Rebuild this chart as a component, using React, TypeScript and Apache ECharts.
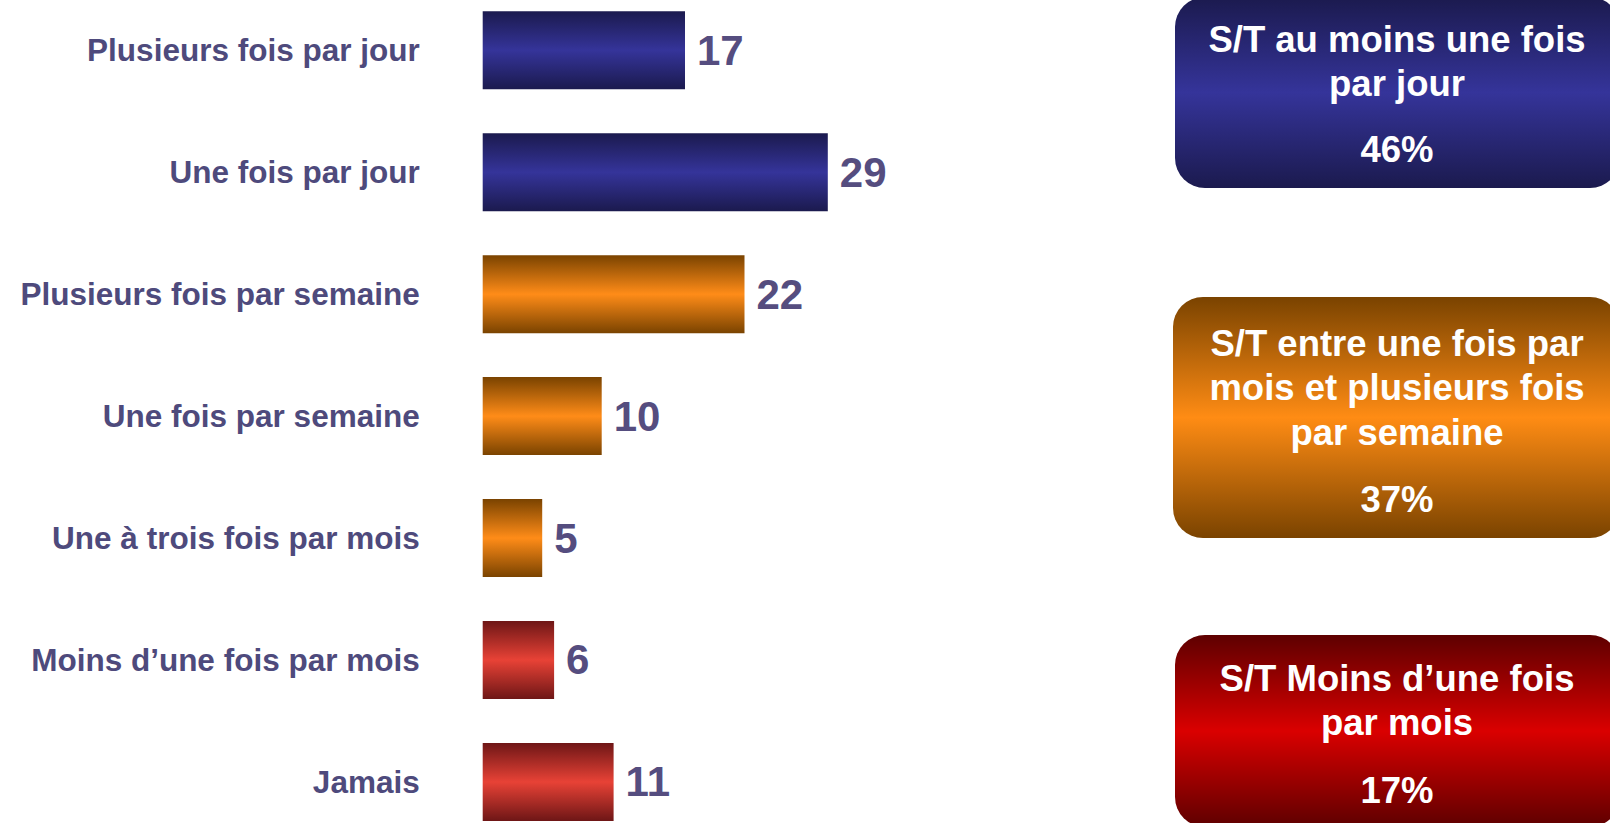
import React, { useEffect, useRef } from "react";
import * as echarts from "echarts";

const categories = [
  "Plusieurs fois par jour",
  "Une fois par jour",
  "Plusieurs fois par semaine",
  "Une fois par semaine",
  "Une à trois fois par mois",
  "Moins d’une fois par mois",
  "Jamais",
];
const values = [17, 29, 22, 10, 5, 6, 11];
const groups = ["blue", "blue", "orange", "orange", "orange", "red", "red"];

const summaryTitles = [
  "S/T au moins une fois\npar jour",
  "S/T entre une fois par\nmois et plusieurs fois\npar semaine",
  "S/T Moins d’une fois\npar mois",
];
const summaryValues = ["46%", "37%", "17%"];

const FONT = '"Liberation Sans", Arial, Helvetica, sans-serif';

const barColors: Record<string, [string, string]> = {
  blue: ["#1b1a4e", "#35349a"],
  orange: ["#7a4300", "#ff8c18"],
  red: ["#6e1616", "#e84236"],
};
const boxColors: [string, string][] = [
  ["#1b1a4e", "#35349a"],
  ["#7a4300", "#ff8c14"],
  ["#5e0000", "#da0000"],
];

const vGrad = (edge: string, mid: string) => ({
  type: "linear",
  x: 0,
  y: 0,
  x2: 0,
  y2: 1,
  colorStops: [
    { offset: 0, color: edge },
    { offset: 0.5, color: mid },
    { offset: 1, color: edge },
  ],
});

// chart canvas is shifted up by OFF px so the category bands can extend beyond the page
const OFF = 11;
const CH = 855;

export default function App() {
  const ref = useRef<HTMLDivElement>(null);
  useEffect(() => {
    if (!ref.current) return;
    const chart = echarts.init(ref.current, null, { renderer: "svg" });

    const boxes = [
      { x: 1175, y: -3, w: 445, h: 191 },
      { x: 1173, y: 297, w: 447, h: 241 },
      { x: 1175, y: 635, w: 445, h: 192 },
    ];
    const titleBaselines = [52, 356, 691];
    const pctBaselines = [162, 512, 803];

    const graphics: any[] = [];
    boxes.forEach((b, i) => {
      graphics.push({
        type: "rect",
        shape: { x: b.x, y: b.y + OFF, width: b.w, height: b.h, r: 30 },
        style: { fill: vGrad(boxColors[i][0], boxColors[i][1]) },
        z: 1,
      });
      graphics.push({
        type: "text",
        x: 1397,
        y: titleBaselines[i] - 35 + OFF,
        style: {
          text: summaryTitles[i],
          fill: "#ffffff",
          font: `bold 36.5px ${FONT}`,
          textAlign: "center",
          textVerticalAlign: "top",
          lineHeight: 44.5,
        },
        z: 2,
      });
      graphics.push({
        type: "text",
        x: 1397,
        y: pctBaselines[i] - 35 + OFF,
        style: {
          text: summaryValues[i],
          fill: "#ffffff",
          font: `bold 36.5px ${FONT}`,
          textAlign: "center",
          textVerticalAlign: "top",
          lineHeight: 44.5,
        },
        z: 2,
      });
    });

    chart.setOption({
      animation: false,
      backgroundColor: "#ffffff",
      grid: { left: 482.7, top: 0.3, height: 853.6, width: 714, containLabel: false },
      xAxis: {
        type: "value",
        min: 0,
        max: 60,
        show: false,
      },
      yAxis: {
        type: "category",
        data: categories,
        inverse: true,
        axisLine: { show: false },
        axisTick: { show: false },
        axisLabel: {
          margin: 63,
          color: "#4e4a7c",
          fontSize: 31.5,
          fontWeight: "bold",
          fontFamily: FONT,
        },
      },
      series: [
        {
          type: "bar",
          barWidth: 78,
          data: values.map((v, i) => ({
            value: v,
            itemStyle: {
              color: vGrad(barColors[groups[i]][0], barColors[groups[i]][1]),
            },
          })),
          label: {
            show: true,
            position: "right",
            distance: 12,
            color: "#554d7f",
            fontSize: 42,
            fontWeight: "bold",
            fontFamily: FONT,
          },
        },
      ],
      graphic: graphics,
    });
    return () => chart.dispose();
  }, []);
  return (
    <div
      ref={ref}
      style={{ position: "fixed", left: 0, top: -OFF, width: 1610, height: CH }}
    />
  );
}
